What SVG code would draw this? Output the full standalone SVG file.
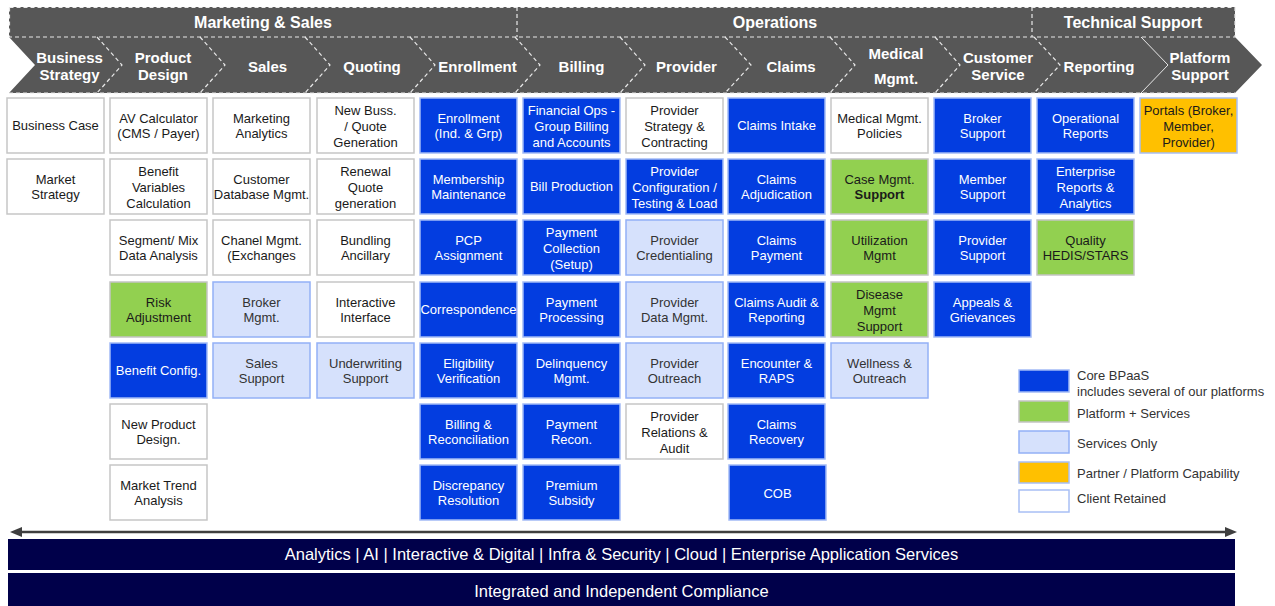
<svg xmlns="http://www.w3.org/2000/svg" width="1275" height="606" viewBox="0 0 1275 606">
  <style>
    .hdr { fill: #575757; }
    .dash { fill: none; stroke: #e8e8e8; stroke-width: 1.2; stroke-dasharray: 4 3; }
    .solid { fill: none; stroke: #e8e8e8; stroke-width: 1; }
    .ht { font-family: "Liberation Sans", Arial, sans-serif; font-weight: bold; font-size: 16px; fill: #fff; text-anchor: middle; }
    .ct { font-family: "Liberation Sans", Arial, sans-serif; font-weight: bold; font-size: 15px; fill: #fff; text-anchor: middle; }
    .w { fill: #fff; stroke: #c6c6c6; stroke-width: 1.5; }
    .b { fill: #033de0; stroke: #a3bbf6; stroke-width: 1.5; }
    .g { fill: #92d050; stroke: #c4c4c4; stroke-width: 1.5; }
    .l { fill: #d6e1fc; stroke: #93b0f6; stroke-width: 1.5; }
    .o { fill: #ffc000; stroke: #a8bff5; stroke-width: 1.5; }
    .lw { fill: #fff; stroke: #a8bff5; stroke-width: 1.5; }
    .t { font-family: "Liberation Sans", Arial, sans-serif; font-size: 13px; text-anchor: middle; fill: #1a1a1a; }
    .tw { fill: #fff; }
    .tg { fill: #333; }
    .bold { font-weight: bold; }
    .lg { font-family: "Liberation Sans", Arial, sans-serif; font-size: 13px; fill: #333; }
    .bar { fill: #00004a; }
    .bt { font-family: "Liberation Sans", Arial, sans-serif; font-size: 16.5px; fill: #fff; text-anchor: middle; }
  </style>
  <defs>
    <marker id="arrowhead" viewBox="0 0 12 10" refX="2" refY="5" markerWidth="12" markerHeight="10" markerUnits="userSpaceOnUse" orient="auto-start-reverse">
      <path d="M0,0 L12,5 L0,10 z" fill="#3f3f3f"/>
    </marker>
  </defs>

  <!-- Function bands -->
  <g id="header">
    <rect class="hdr" x="9" y="7" width="1226" height="30"/>
    <path class="hdr" d="M9,37 L1235,37 L1262,65 L1235,93 L9,93 L35,65 Z"/>
    <rect class="dash" x="9.5" y="7.5" width="1225.5" height="29.5"/>
    <line class="dash" x1="517" y1="7" x2="517" y2="37"/>
    <line class="dash" x1="1032" y1="7" x2="1032" y2="37"/>
    <line class="dash" x1="9" y1="93" x2="1235" y2="93"/>
    <polyline class="dash" points="97,37 122,65 97,93"/>
    <polyline class="dash" points="200,37 225,65 200,93"/>
    <polyline class="dash" points="305,37 330,65 305,93"/>
    <polyline class="dash" points="410,37 435,65 410,93"/>
    <polyline class="dash" points="515,37 540,65 515,93"/>
    <polyline class="dash" points="620,37 645,65 620,93"/>
    <polyline class="dash" points="725,37 751,65 725,93"/>
    <polyline class="dash" points="830,37 855,65 830,93"/>
    <polyline class="dash" points="935,37 960,65 935,93"/>
    <polyline class="dash" points="1034,37 1060,65 1034,93"/>
    <polyline class="solid" points="1141,37 1168,65 1141,93"/>
    <text class="ht" x="263" y="28">Marketing &amp; Sales</text>
    <text class="ht" x="775" y="28">Operations</text>
    <text class="ht" x="1133" y="28">Technical Support</text>
    <text class="ct"><tspan x="69.5" y="63">Business</tspan><tspan x="69.5" y="80">Strategy</tspan></text>
    <text class="ct"><tspan x="163" y="63">Product</tspan><tspan x="163" y="80">Design</tspan></text>
    <text class="ct" x="267.5" y="72">Sales</text>
    <text class="ct" x="372" y="72">Quoting</text>
    <text class="ct" x="477.5" y="72">Enrollment</text>
    <text class="ct" x="581.5" y="72">Billing</text>
    <text class="ct" x="686.5" y="72">Provider</text>
    <text class="ct" x="791" y="72">Claims</text>
    <text class="ct"><tspan x="896" y="59">Medical</tspan><tspan x="896" y="84">Mgmt.</tspan></text>
    <text class="ct"><tspan x="998" y="63">Customer</tspan><tspan x="998" y="80">Service</tspan></text>
    <text class="ct" x="1099" y="72">Reporting</text>
    <text class="ct"><tspan x="1200" y="63">Platform</tspan><tspan x="1200" y="80">Support</tspan></text>
  </g>

  <!-- Business Strategy -->
  <g id="business-case"><rect class="w" x="7" y="98" width="97" height="55"/><text class="t" x="55.5" y="130">Business Case</text></g>
  <g id="market-strategy"><rect class="w" x="7" y="159" width="97" height="55"/><text class="t"><tspan x="55.5" y="183.5">Market</tspan><tspan x="55.5" y="199">Strategy</tspan></text></g>

  <!-- Product Design -->
  <g id="av-calculator"><rect class="w" x="110" y="98" width="97" height="55"/><text class="t"><tspan x="158.5" y="122.5">AV Calculator</tspan><tspan x="158.5" y="138">(CMS / Payer)</tspan></text></g>
  <g id="benefit-variables"><rect class="w" x="110" y="159" width="97" height="55"/><text class="t"><tspan x="158.5" y="176">Benefit</tspan><tspan x="158.5" y="192">Variables</tspan><tspan x="158.5" y="208">Calculation</tspan></text></g>
  <g id="segment-mix"><rect class="w" x="110" y="220" width="97" height="55"/><text class="t"><tspan x="158.5" y="244.5">Segment/ Mix</tspan><tspan x="158.5" y="260">Data Analysis</tspan></text></g>
  <g id="risk-adjustment"><rect class="g" x="110" y="282" width="97" height="55"/><text class="t"><tspan x="158.5" y="306.5">Risk</tspan><tspan x="158.5" y="322">Adjustment</tspan></text></g>
  <g id="benefit-config"><rect class="b" x="110" y="343" width="97" height="55"/><text class="t tw" x="158.5" y="375">Benefit Config.</text></g>
  <g id="new-product-design"><rect class="w" x="110" y="404" width="97" height="55"/><text class="t"><tspan x="158.5" y="428.5">New Product</tspan><tspan x="158.5" y="444">Design.</tspan></text></g>
  <g id="market-trend"><rect class="w" x="110" y="465" width="97" height="55"/><text class="t"><tspan x="158.5" y="489.5">Market Trend</tspan><tspan x="158.5" y="505">Analysis</tspan></text></g>

  <!-- Sales -->
  <g id="marketing-analytics"><rect class="w" x="213" y="98" width="97" height="55"/><text class="t"><tspan x="261.5" y="122.5">Marketing</tspan><tspan x="261.5" y="138">Analytics</tspan></text></g>
  <g id="customer-database"><rect class="w" x="213" y="159" width="97" height="55"/><text class="t"><tspan x="261.5" y="183.5">Customer</tspan><tspan x="261.5" y="199">Database Mgmt.</tspan></text></g>
  <g id="chanel-mgmt"><rect class="w" x="213" y="220" width="97" height="55"/><text class="t"><tspan x="261.5" y="244.5">Chanel Mgmt.</tspan><tspan x="261.5" y="260">(Exchanges</tspan></text></g>
  <g id="broker-mgmt"><rect class="l" x="213" y="282" width="97" height="55"/><text class="t tg"><tspan x="261.5" y="306.5">Broker</tspan><tspan x="261.5" y="322">Mgmt.</tspan></text></g>
  <g id="sales-support"><rect class="l" x="213" y="343" width="97" height="55"/><text class="t tg"><tspan x="261.5" y="367.5">Sales</tspan><tspan x="261.5" y="383">Support</tspan></text></g>

  <!-- Quoting -->
  <g id="new-business-quote"><rect class="w" x="317" y="98" width="97" height="55"/><text class="t"><tspan x="365.5" y="115">New Buss.</tspan><tspan x="365.5" y="131">/ Quote</tspan><tspan x="365.5" y="147">Generation</tspan></text></g>
  <g id="renewal-quote"><rect class="w" x="317" y="159" width="97" height="55"/><text class="t"><tspan x="365.5" y="176">Renewal</tspan><tspan x="365.5" y="192">Quote</tspan><tspan x="365.5" y="208">generation</tspan></text></g>
  <g id="bundling-ancillary"><rect class="w" x="317" y="220" width="97" height="55"/><text class="t"><tspan x="365.5" y="244.5">Bundling</tspan><tspan x="365.5" y="260">Ancillary</tspan></text></g>
  <g id="interactive-interface"><rect class="w" x="317" y="282" width="97" height="55"/><text class="t"><tspan x="365.5" y="306.5">Interactive</tspan><tspan x="365.5" y="322">Interface</tspan></text></g>
  <g id="underwriting-support"><rect class="l" x="317" y="343" width="97" height="55"/><text class="t tg"><tspan x="365.5" y="367.5">Underwriting</tspan><tspan x="365.5" y="383">Support</tspan></text></g>

  <!-- Enrollment -->
  <g id="enrollment"><rect class="b" x="420" y="98" width="97" height="55"/><text class="t tw"><tspan x="468.5" y="122.5">Enrollment</tspan><tspan x="468.5" y="138">(Ind. &amp; Grp)</tspan></text></g>
  <g id="membership-maintenance"><rect class="b" x="420" y="159" width="97" height="55"/><text class="t tw"><tspan x="468.5" y="183.5">Membership</tspan><tspan x="468.5" y="199">Maintenance</tspan></text></g>
  <g id="pcp-assignment"><rect class="b" x="420" y="220" width="97" height="55"/><text class="t tw"><tspan x="468.5" y="244.5">PCP</tspan><tspan x="468.5" y="260">Assignment</tspan></text></g>
  <g id="correspondence"><rect class="b" x="420" y="282" width="97" height="55"/><text class="t tw" x="468.5" y="314">Correspondence</text></g>
  <g id="eligibility-verification"><rect class="b" x="420" y="343" width="97" height="55"/><text class="t tw"><tspan x="468.5" y="367.5">Eligibility</tspan><tspan x="468.5" y="383">Verification</tspan></text></g>
  <g id="billing-reconciliation"><rect class="b" x="420" y="404" width="97" height="55"/><text class="t tw"><tspan x="468.5" y="428.5">Billing &amp;</tspan><tspan x="468.5" y="444">Reconciliation</tspan></text></g>
  <g id="discrepancy-resolution"><rect class="b" x="420" y="465" width="97" height="55"/><text class="t tw"><tspan x="468.5" y="489.5">Discrepancy</tspan><tspan x="468.5" y="505">Resolution</tspan></text></g>

  <!-- Billing -->
  <g id="financial-ops"><rect class="b" x="523" y="98" width="97" height="55"/><text class="t tw"><tspan x="571.5" y="115">Financial Ops -</tspan><tspan x="571.5" y="131">Group Billing</tspan><tspan x="571.5" y="147">and Accounts</tspan></text></g>
  <g id="bill-production"><rect class="b" x="523" y="159" width="97" height="55"/><text class="t tw" x="571.5" y="191">Bill Production</text></g>
  <g id="payment-collection"><rect class="b" x="523" y="220" width="97" height="55"/><text class="t tw"><tspan x="571.5" y="237">Payment</tspan><tspan x="571.5" y="253">Collection</tspan><tspan x="571.5" y="269">(Setup)</tspan></text></g>
  <g id="payment-processing"><rect class="b" x="523" y="282" width="97" height="55"/><text class="t tw"><tspan x="571.5" y="306.5">Payment</tspan><tspan x="571.5" y="322">Processing</tspan></text></g>
  <g id="delinquency-mgmt"><rect class="b" x="523" y="343" width="97" height="55"/><text class="t tw"><tspan x="571.5" y="367.5">Delinquency</tspan><tspan x="571.5" y="383">Mgmt.</tspan></text></g>
  <g id="payment-recon"><rect class="b" x="523" y="404" width="97" height="55"/><text class="t tw"><tspan x="571.5" y="428.5">Payment</tspan><tspan x="571.5" y="444">Recon.</tspan></text></g>
  <g id="premium-subsidy"><rect class="b" x="523" y="465" width="97" height="55"/><text class="t tw"><tspan x="571.5" y="489.5">Premium</tspan><tspan x="571.5" y="505">Subsidy</tspan></text></g>

  <!-- Provider -->
  <g id="provider-strategy"><rect class="w" x="626" y="98" width="97" height="55"/><text class="t"><tspan x="674.5" y="115">Provider</tspan><tspan x="674.5" y="131">Strategy &amp;</tspan><tspan x="674.5" y="147">Contracting</tspan></text></g>
  <g id="provider-configuration"><rect class="b" x="626" y="159" width="97" height="55"/><text class="t tw"><tspan x="674.5" y="176">Provider</tspan><tspan x="674.5" y="192">Configuration /</tspan><tspan x="674.5" y="208">Testing &amp; Load</tspan></text></g>
  <g id="provider-credentialing"><rect class="l" x="626" y="220" width="97" height="55"/><text class="t tg"><tspan x="674.5" y="244.5">Provider</tspan><tspan x="674.5" y="260">Credentialing</tspan></text></g>
  <g id="provider-data"><rect class="l" x="626" y="282" width="97" height="55"/><text class="t tg"><tspan x="674.5" y="306.5">Provider</tspan><tspan x="674.5" y="322">Data Mgmt.</tspan></text></g>
  <g id="provider-outreach"><rect class="l" x="626" y="343" width="97" height="55"/><text class="t tg"><tspan x="674.5" y="367.5">Provider</tspan><tspan x="674.5" y="383">Outreach</tspan></text></g>
  <g id="provider-relations"><rect class="w" x="626" y="404" width="97" height="55"/><text class="t"><tspan x="674.5" y="421">Provider</tspan><tspan x="674.5" y="437">Relations &amp;</tspan><tspan x="674.5" y="453">Audit</tspan></text></g>

  <!-- Claims -->
  <g id="claims-intake"><rect class="b" x="728" y="98" width="97" height="55"/><text class="t tw" x="776.5" y="130">Claims Intake</text></g>
  <g id="claims-adjudication"><rect class="b" x="728" y="159" width="97" height="55"/><text class="t tw"><tspan x="776.5" y="183.5">Claims</tspan><tspan x="776.5" y="199">Adjudication</tspan></text></g>
  <g id="claims-payment"><rect class="b" x="728" y="220" width="97" height="55"/><text class="t tw"><tspan x="776.5" y="244.5">Claims</tspan><tspan x="776.5" y="260">Payment</tspan></text></g>
  <g id="claims-audit"><rect class="b" x="728" y="282" width="97" height="55"/><text class="t tw"><tspan x="776.5" y="306.5">Claims Audit &amp;</tspan><tspan x="776.5" y="322">Reporting</tspan></text></g>
  <g id="encounter-raps"><rect class="b" x="728" y="343" width="97" height="55"/><text class="t tw"><tspan x="776.5" y="367.5">Encounter &amp;</tspan><tspan x="776.5" y="383">RAPS</tspan></text></g>
  <g id="claims-recovery"><rect class="b" x="728" y="404" width="97" height="55"/><text class="t tw"><tspan x="776.5" y="428.5">Claims</tspan><tspan x="776.5" y="444">Recovery</tspan></text></g>
  <g id="cob"><rect class="b" x="729" y="465" width="97" height="55"/><text class="t tw" x="777.5" y="498">COB</text></g>

  <!-- Medical Mgmt. -->
  <g id="medical-policies"><rect class="w" x="831" y="98" width="97" height="55"/><text class="t"><tspan x="879.5" y="122.5">Medical Mgmt.</tspan><tspan x="879.5" y="138">Policies</tspan></text></g>
  <g id="case-mgmt"><rect class="g" x="831" y="159" width="97" height="55"/><text class="t"><tspan x="879.5" y="183.5">Case Mgmt.</tspan><tspan class="bold" x="879.5" y="199">Support</tspan></text></g>
  <g id="utilization-mgmt"><rect class="g" x="831" y="220" width="97" height="55"/><text class="t"><tspan x="879.5" y="244.5">Utilization</tspan><tspan x="879.5" y="260">Mgmt</tspan></text></g>
  <g id="disease-mgmt"><rect class="g" x="831" y="282" width="97" height="55"/><text class="t"><tspan x="879.5" y="299">Disease</tspan><tspan x="879.5" y="315">Mgmt</tspan><tspan x="879.5" y="331">Support</tspan></text></g>
  <g id="wellness-outreach"><rect class="l" x="831" y="343" width="97" height="55"/><text class="t tg"><tspan x="879.5" y="367.5">Wellness &amp;</tspan><tspan x="879.5" y="383">Outreach</tspan></text></g>

  <!-- Customer Service -->
  <g id="broker-support"><rect class="b" x="934" y="98" width="97" height="55"/><text class="t tw"><tspan x="982.5" y="122.5">Broker</tspan><tspan x="982.5" y="138">Support</tspan></text></g>
  <g id="member-support"><rect class="b" x="934" y="159" width="97" height="55"/><text class="t tw"><tspan x="982.5" y="183.5">Member</tspan><tspan x="982.5" y="199">Support</tspan></text></g>
  <g id="provider-support"><rect class="b" x="934" y="220" width="97" height="55"/><text class="t tw"><tspan x="982.5" y="244.5">Provider</tspan><tspan x="982.5" y="260">Support</tspan></text></g>
  <g id="appeals-grievances"><rect class="b" x="934" y="282" width="97" height="55"/><text class="t tw"><tspan x="982.5" y="306.5">Appeals &amp;</tspan><tspan x="982.5" y="322">Grievances</tspan></text></g>

  <!-- Reporting -->
  <g id="operational-reports"><rect class="b" x="1037" y="98" width="97" height="55"/><text class="t tw"><tspan x="1085.5" y="122.5">Operational</tspan><tspan x="1085.5" y="138">Reports</tspan></text></g>
  <g id="enterprise-reports"><rect class="b" x="1037" y="159" width="97" height="55"/><text class="t tw"><tspan x="1085.5" y="176">Enterprise</tspan><tspan x="1085.5" y="192">Reports &amp;</tspan><tspan x="1085.5" y="208">Analytics</tspan></text></g>
  <g id="quality-hedis"><rect class="g" x="1037" y="220" width="97" height="55"/><text class="t"><tspan x="1085.5" y="244.5">Quality</tspan><tspan x="1085.5" y="260">HEDIS/STARS</tspan></text></g>

  <!-- Platform Support -->
  <g id="portals"><rect class="o" x="1140" y="98" width="97" height="55"/><text class="t"><tspan x="1188.5" y="115">Portals (Broker,</tspan><tspan x="1188.5" y="131">Member,</tspan><tspan x="1188.5" y="147">Provider)</tspan></text></g>

  <!-- Legend -->
  <g id="legend">
    <rect class="b" x="1019" y="370" width="50" height="22"/>
    <text class="lg"><tspan x="1077" y="380">Core BPaaS</tspan><tspan x="1077" y="396">includes several of our platforms</tspan></text>
    <rect class="g" x="1019" y="401" width="50" height="21"/>
    <text class="lg" x="1077" y="418">Platform + Services</text>
    <rect class="l" x="1019" y="431" width="50" height="22"/>
    <text class="lg" x="1077" y="448">Services Only</text>
    <rect class="o" x="1019" y="462" width="50" height="21"/>
    <text class="lg" x="1077" y="478">Partner / Platform Capability</text>
    <rect class="lw" x="1019" y="490" width="50" height="22"/>
    <text class="lg" x="1077" y="503">Client Retained</text>
  </g>

  <!-- Span arrow across all functions -->
  <g id="connectors">
    <line x1="20" y1="532" x2="1227" y2="532" stroke="#3f3f3f" stroke-width="2.5" marker-start="url(#arrowhead)" marker-end="url(#arrowhead)"/>
  </g>

  <!-- Foundation bars -->
  <g id="services-bar">
    <rect class="bar" x="8" y="539" width="1227" height="31"/>
    <text class="bt" x="621.5" y="560">Analytics | AI | Interactive &amp; Digital | Infra &amp; Security | Cloud | Enterprise Application Services</text>
  </g>
  <g id="compliance-bar">
    <rect class="bar" x="8" y="573" width="1227" height="33"/>
    <text class="bt" x="621.5" y="597">Integrated and Independent Compliance</text>
  </g>
</svg>
